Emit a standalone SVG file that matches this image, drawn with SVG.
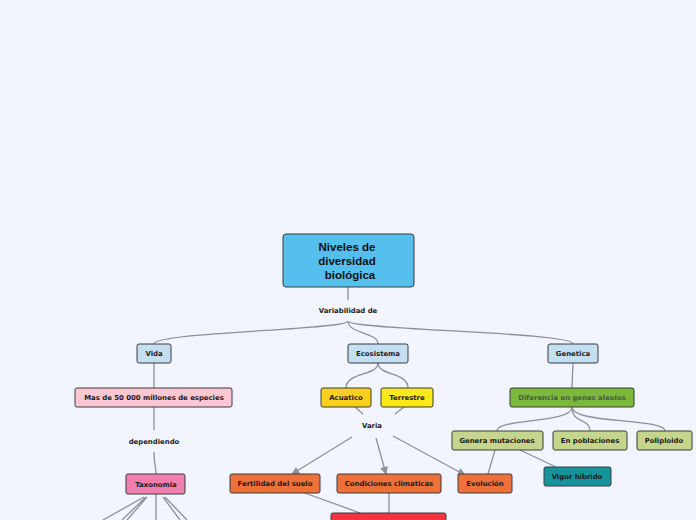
<svg xmlns="http://www.w3.org/2000/svg" width="696" height="520" viewBox="0 0 696 520">
<defs>
<marker id="ah" viewBox="0 0 10 10" refX="9" refY="5" markerWidth="8" markerHeight="8" markerUnits="userSpaceOnUse" orient="auto"><path d="M0,0 L10,5 L0,10 z" fill="#8c9099"/></marker>
</defs>
<style>
.n{stroke:#3a3a3a;stroke-width:1}
.t{font-family:"DejaVu Sans",Verdana,sans-serif;font-weight:bold;font-size:6.9px;fill:#1a1a1a;text-anchor:middle}
.r{font-family:"Liberation Sans",Arial,sans-serif;font-weight:bold;font-size:11.5px;fill:#111;text-anchor:middle}
.c{fill:none;stroke:#8c9099;stroke-width:1.3}
</style>
<rect width="696" height="520" fill="#f2f5fd"/>
<g id="connectors">
<path class="c" d="M348,287 L348,300"/>
<path class="c" d="M348,321 C348,330 154,332 154,344"/>
<path class="c" d="M348,321 C348,334 378,332 378,344"/>
<path class="c" d="M348,321 C348,330 573,332 573,344"/>
<path class="c" d="M154,363 L154,388"/>
<path class="c" d="M154,407 L154,430"/>
<path class="c" d="M154,452 C154,464 156,466 156,474"/>
<path class="c" d="M144,497 L103,520 M146,497 L122,520 M147,497 L127,520 M156,494 L156,520 M163,497 L180,520 M165,497 L187,520"/>
<path class="c" d="M378,363 C378,376 346,372 346,388"/>
<path class="c" d="M378,363 C378,376 408,372 408,388"/>
<path class="c" d="M355,407 L363,414"/>
<path class="c" d="M404,407 L395,414"/>
<path class="c" d="M352,437 L292,474" marker-end="url(#ah)"/>
<path class="c" d="M376,438 L386,474" marker-end="url(#ah)"/>
<path class="c" d="M393,436 L465,475" marker-end="url(#ah)"/>
<path class="c" d="M305,493 L360,513"/>
<path class="c" d="M389,493 L389,513"/>
<path class="c" d="M573,363 L572,388"/>
<path class="c" d="M572,407 C572,424 497,418 497,431"/>
<path class="c" d="M572,407 C572,424 590,418 590,431"/>
<path class="c" d="M572,407 C572,424 665,418 665,431"/>
<path class="c" d="M520,450 L556,467"/>
<path class="c" d="M495,450 L488,474"/>
</g>
<g id="root"><rect class="n" x="283" y="234" width="131" height="53" rx="3" fill="#55bfee"/>
<text class="r" x="347" y="251">Niveles de</text><text class="r" x="347" y="265">diversidad</text><text class="r" x="350" y="279">biológica</text></g>
<g id="lbl-variabilidad"><text class="t" x="348" y="313">Variabilidad de</text></g>
<g id="vida"><rect class="n" x="137" y="344" width="34" height="19" rx="2" fill="#c5dff2"/><text class="t" x="154" y="356">Vida</text></g>
<g id="ecosistema"><rect class="n" x="348" y="344" width="60" height="19" rx="2" fill="#c5dff2"/><text class="t" x="378" y="356">Ecosistema</text></g>
<g id="genetica"><rect class="n" x="548" y="344" width="50" height="19" rx="2" fill="#c5dff2"/><text class="t" x="573" y="356">Genetica</text></g>
<g id="especies"><rect class="n" x="75" y="388" width="157" height="19" rx="2" fill="#fbc7d3"/><text class="t" x="154" y="400">Mas de 50 000 millones de especies</text></g>
<g id="lbl-dependiendo"><text class="t" x="154" y="444">dependiendo</text></g>
<g id="taxonomia"><rect class="n" x="126" y="474" width="59" height="20" rx="2" fill="#f07fb0"/><text class="t" x="156" y="487">Taxonomia</text></g>
<g id="acuatico"><rect class="n" x="321" y="388" width="50" height="19" rx="2" fill="#f9d01b"/><text class="t" x="346" y="400">Acuatico</text></g>
<g id="terrestre"><rect class="n" x="381" y="388" width="52" height="19" rx="2" fill="#fde81a"/><text class="t" x="407" y="400">Terrestre</text></g>
<g id="lbl-varia"><text class="t" x="372" y="428">Varia</text></g>
<g id="fertilidad"><rect class="n" x="230" y="474" width="90" height="19" rx="2" fill="#ef713a"/><text class="t" x="275" y="486">Fertilidad del suelo</text></g>
<g id="condiciones"><rect class="n" x="337" y="474" width="104" height="19" rx="2" fill="#ef713a"/><text class="t" x="389" y="486">Condiciones climaticas</text></g>
<g id="evolucion"><rect class="n" x="458" y="474" width="54" height="19" rx="2" fill="#ef713a"/><text class="t" x="485" y="486">Evolución</text></g>
<g id="rojo"><rect class="n" x="331" y="513" width="115" height="20" rx="2" fill="#f53241"/></g>
<g id="diferencia"><rect class="n" x="510" y="388" width="124" height="19" rx="2" fill="#7cb83b"/><text class="t" x="572" y="400" style="fill:#4b5a40">Diferencia en genes aleolos</text></g>
<g id="mutaciones"><rect class="n" x="452" y="431" width="91" height="19" rx="2" fill="#c6d58e"/><text class="t" x="497" y="443">Genera mutaciones</text></g>
<g id="poblaciones"><rect class="n" x="553" y="431" width="74" height="19" rx="2" fill="#c6d58e"/><text class="t" x="590" y="443">En poblaciones</text></g>
<g id="poliploido"><rect class="n" x="637" y="431" width="55" height="19" rx="2" fill="#c6d58e"/><text class="t" x="664" y="443">Poliploido</text></g>
<g id="vigor"><rect class="n" x="544" y="467" width="67" height="19" rx="2" fill="#16949c"/><text class="t" x="577" y="479">Vigor híbrido</text></g>
</svg>
